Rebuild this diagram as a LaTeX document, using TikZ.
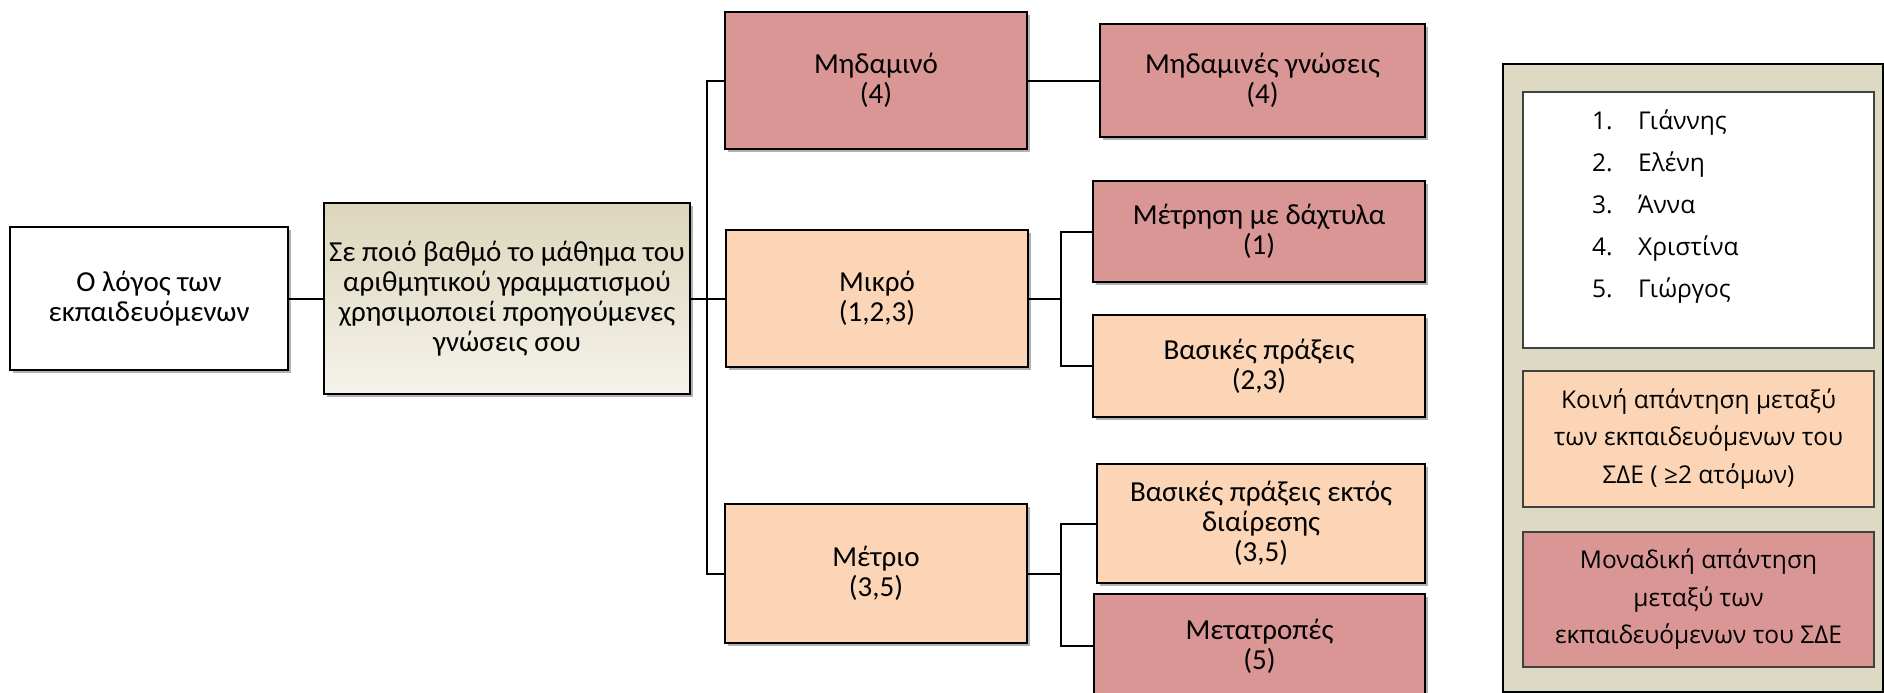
\documentclass[tikz,border=0pt]{standalone}
\usepackage{fontspec}
\setmainfont{Carlito}
\newfontfamily\legendfont{Open Sans}
\usetikzlibrary{shadows}

\definecolor{rosefill}{HTML}{D99694}
\definecolor{peachfill}{HTML}{FBD5B5}
\definecolor{tanfill}{HTML}{DDD9C3}
\definecolor{tantop}{HTML}{DCD6BB}
\definecolor{tanbottom}{HTML}{F5F3EB}

\tikzset{
  box/.style={draw=black, line width=2pt, align=center, inner sep=1pt,
    font=\fontsize{29}{30}\selectfont,
    drop shadow={shadow xshift=3pt, shadow yshift=-3pt, opacity=0.3, fill=black}},
  whitebox/.style={box, fill=white},
  questionbox/.style={box, top color=tantop, bottom color=tanbottom},
  rosebox/.style={box, fill=rosefill},
  peachbox/.style={box, fill=peachfill},
  conn/.style={draw=black, line width=2pt},
  keyframe/.style={draw=black, line width=2.5pt, fill=tanfill},
  keytext/.style={align=center, inner sep=2pt,
    font=\legendfont\fontsize{24.5}{37.5}\selectfont},
  keybox/.style={keytext, draw=black!75, line width=1.5pt}
}

\begin{document}
\begin{tikzpicture}[x=1pt, y=-1pt]
\useasboundingbox (0,0) rectangle (1884,693);

% first two levels
\node[whitebox, minimum width=278pt, minimum height=143pt] (src) at (149,298.5)
  {Ο λόγος των\\εκπαιδευόμενων};
\node[questionbox, minimum width=366pt, minimum height=191pt] (quest) at (507,298.5)
  {Σε ποιό βαθμό το μάθημα του\\αριθμητικού γραμματισμού\\χρησιμοποιεί προηγούμενες\\γνώσεις σου};

% degree of use
\node[rosebox, minimum width=302pt, minimum height=137pt] (none) at (876,80.5)
  {Μηδαμινό\\(4)};
\node[peachbox, minimum width=302pt, minimum height=137pt] (small) at (877,298.5)
  {Μικρό\\(1,2,3)};
\node[peachbox, minimum width=302pt, minimum height=139pt] (medium) at (876,573.5)
  {Μέτριο\\(3,5)};

% kinds of prior knowledge
\node[rosebox, minimum width=325pt, minimum height=113pt] (noknow) at (1262.5,80.5)
  {Μηδαμινές γνώσεις\\(4)};
\node[rosebox, minimum width=332pt, minimum height=101pt] (fingers) at (1259,231.5)
  {Μέτρηση με δάχτυλα\\(1)};
\node[peachbox, minimum width=332pt, minimum height=102pt] (basic) at (1259,366)
  {Βασικές πράξεις\\(2,3)};
\node[peachbox, minimum width=328pt, minimum height=119pt] (basicnodiv) at (1261,523.5)
  {Βασικές πράξεις εκτός\\διαίρεσης\\(3,5)};
\node[rosebox, minimum width=331pt, minimum height=104pt] (convert) at (1259.5,646)
  {Μετατροπές\\(5)};

% connectors
\draw[conn] (src.east) -- (quest.west);
\draw[conn] (quest.east) -- (small.west);
\draw[conn] (none.west) -- ++(-17,0) |- (medium.west);
\draw[conn] (none.east) -- (noknow.west);
\path (fingers.west) ++(-31,0) coordinate (jsmall);
\draw[conn] (small.east) -- (small.east -| jsmall);
\draw[conn] (fingers.west) -| (jsmall) |- (basic.west);
\path (basicnodiv.west) ++(-35,0) coordinate (jmed);
\draw[conn] (medium.east) -- (medium.east -| jmed);
\draw[conn] (basicnodiv.west) -| (jmed) |- (convert.west);

% key
\node[keyframe, minimum width=380pt, minimum height=628pt, inner sep=0pt,
  drop shadow={shadow xshift=2pt, shadow yshift=-2pt, opacity=0.4, fill=black}] (keyframe) at (1693,378) {};
\node[keybox, fill=white, minimum width=351pt, minimum height=256pt] (names) at (1698.5,220) {};
\node[keytext, anchor=north west, align=left, inner sep=0pt,
  font=\legendfont\fontsize{24.5}{37.5}\selectfont] (namelist) at (1592,110)
  {\makebox[46pt][l]{1.}Γιάννης\\[4.5pt]
   \makebox[46pt][l]{2.}Ελένη\\[4.5pt]
   \makebox[46pt][l]{3.}Άννα\\[4.5pt]
   \makebox[46pt][l]{4.}Χριστίνα\\[4.5pt]
   \makebox[46pt][l]{5.}Γιώργος};
\node[keybox, fill=peachfill, minimum width=351pt, minimum height=136pt] (shared) at (1698.5,439)
  {Κοινή απάντηση μεταξύ\\των εκπαιδευόμενων του\\ΣΔΕ ( ≥2 ατόμων)};
\node[keybox, fill=rosefill, minimum width=351pt, minimum height=135pt] (single) at (1698.5,599.5)
  {Μοναδική απάντηση\\μεταξύ των\\εκπαιδευόμενων του ΣΔΕ};
\end{tikzpicture}
\end{document}
